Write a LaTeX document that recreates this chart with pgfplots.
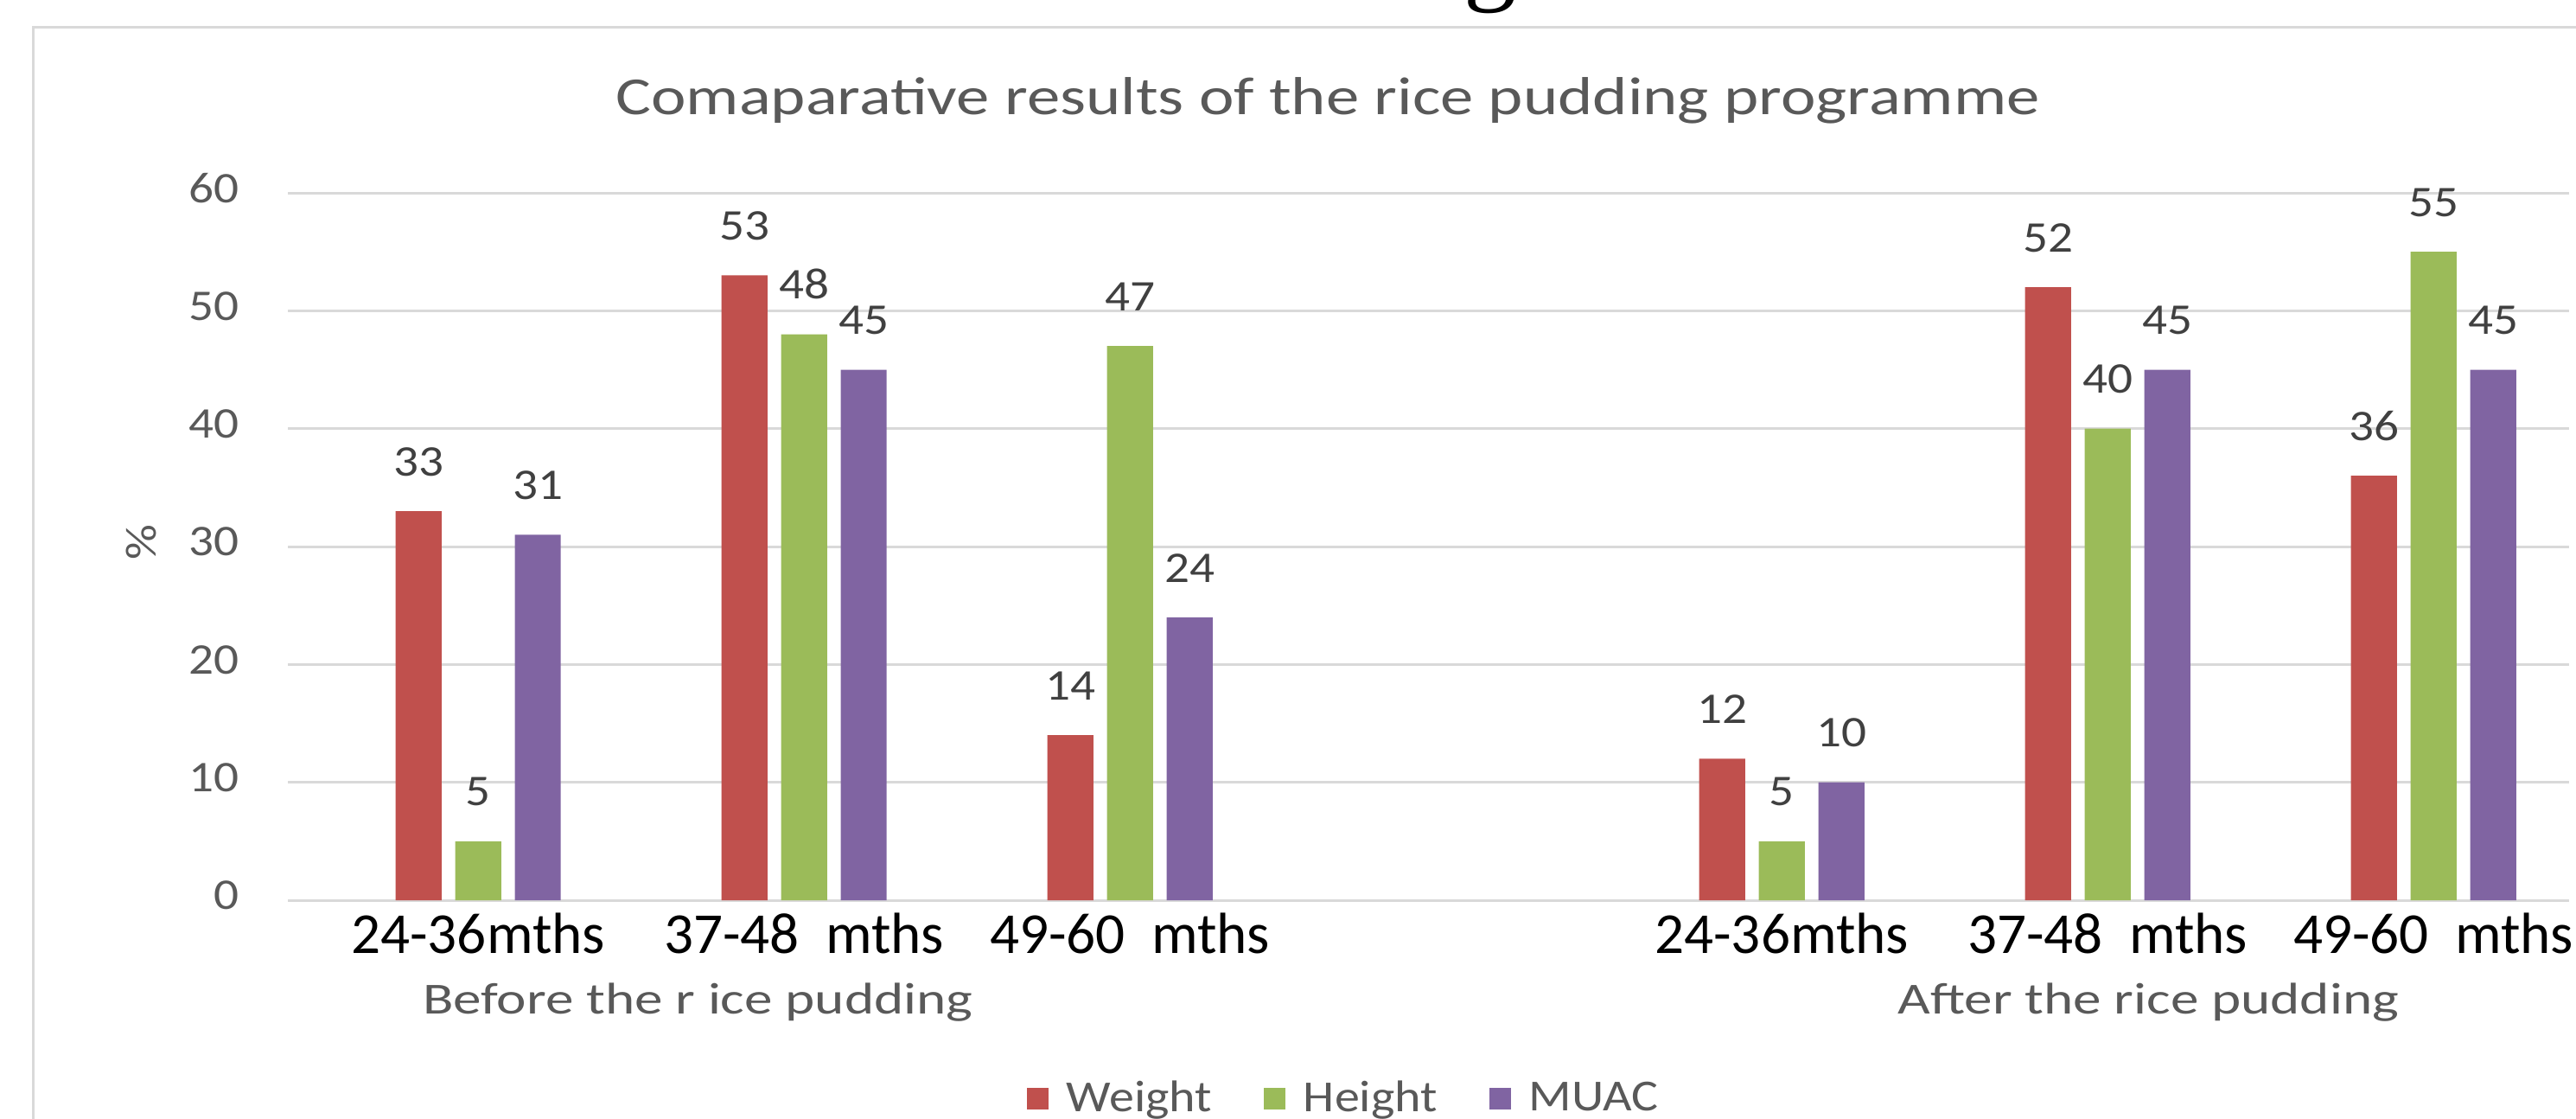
\documentclass[border=0pt]{standalone}
\usepackage{fontspec}
\setmainfont{Carlito}
\newfontfamily\fA[FakeStretch=1.13]{Carlito}
\newfontfamily\fT[FakeStretch=1.24]{Carlito}
\newfontfamily\fG[FakeStretch=1.27]{Carlito}
\newfontfamily\fS{Liberation Serif}
\usepackage{pgfplots}
\pgfplotsset{compat=1.18}
\newcommand\fs[1]{\fontsize{#1}{#1}\selectfont}
\definecolor{cW}{HTML}{C0504D}
\definecolor{cH}{HTML}{9BBB59}
\definecolor{cM}{HTML}{8064A2}
\definecolor{txtgray}{HTML}{595959}
\definecolor{labgray}{HTML}{404040}
\definecolor{gridgray}{HTML}{D9D9D9}
\pgfplotsset{mybar/.style={ybar, bar width=0.141, draw=none, fill=#1,
  legend image code/.code={\fill[fill=#1,draw=none] (0mm,-1.25mm) rectangle (2.5mm,1.25mm);}}}
\begin{document}
\begin{tikzpicture}
\useasboundingbox (0,0) rectangle (298mm,129.3mm);
\draw[line width=0.3mm, color=gridgray] (3.8mm,-2mm) -- (3.8mm,126.1mm) -- (300mm,126.1mm);
\node[font=\fT\fs{17.6}, text=txtgray, anchor=base, inner sep=0pt] at (153.6mm,116.0mm) {Comaparative results of the rice pudding programme};
\node[font=\fS\fs{34.7}, text=black, anchor=base, inner sep=0pt] at (172.4mm,130.3mm) {g};
\begin{axis}[
  at={(33.3mm,25.2mm)}, anchor=south west,
  width=263.9mm, height=81.8mm, scale only axis,
  clip=false,
  xmin=-0.584, xmax=6.416, ymin=0, ymax=60,
  ytick={0,10,...,60},
  xtick={0,1,2,4,5,6},
  xticklabels={24-36mths, 37-48\ \ mths, 49-60\ \ mths, 24-36mths, 37-48\ \ mths, 49-60\ \ mths},
  ymajorgrids,
  grid style={line width=0.3mm, color=gridgray},
  axis line style={draw=none},
  major tick length=0pt,
  tick style={draw=none},
  /pgf/number format/assume math mode=true,
  y tick label style={font=\fA\fs{14.4}, text=txtgray, anchor=east, inner sep=0pt, xshift=-5.6mm, yshift=0.55mm},
  x tick label style={font=\fs{19.1}, text=black, anchor=base, inner sep=0pt, yshift=-6.1mm},
  ylabel={\%},
  ylabel style={at={(rel axis cs:-0.0644,0.506)}, anchor=center, font=\fA\fs{14.4}, text=txtgray, inner sep=0pt},
  nodes near coords,
  every node near coord/.append style={font=\fA\fs{14.4}, text=labgray, anchor=south, inner sep=0pt, yshift=4mm},
  legend columns=3,
  legend style={at={(0.3236,-0.28)}, anchor=west, draw=none, fill=none, inner sep=0pt,
    font=\fA\fs{14.6}, text=txtgray, nodes={inner sep=0pt},
    /tikz/every odd column/.append style={column sep=2.1mm},
    /tikz/every even column/.append style={column sep=6.0mm}},
]
\addplot[mybar=cW, bar shift=-0.183, every node near coord/.append style={xshift=-6.9mm}] coordinates {(0,33) (1,53) (2,14) (4,12) (5,52) (6,36)};
\addlegendentry{Weight}
\addplot[mybar=cH, bar shift=0] coordinates {(0,5) (1,48) (2,47) (4,5) (5,40) (6,55)};
\addlegendentry{Height}
\addplot[mybar=cM, bar shift=0.183, every node near coord/.append style={xshift=6.9mm}] coordinates {(0,31) (1,45) (2,24) (4,10) (5,45) (6,45)};
\addlegendentry{MUAC}
\node[font=\fG\fs{14.6}, text=txtgray, anchor=base, inner sep=0pt, yshift=-13.1mm] at (axis cs:0.674,0) {Before the r ice pudding};
\node[font=\fG\fs{14.6}, text=txtgray, anchor=base, inner sep=0pt, yshift=-13.1mm] at (axis cs:5.125,0) {After the rice pudding};
\end{axis}
\end{tikzpicture}
\end{document}
